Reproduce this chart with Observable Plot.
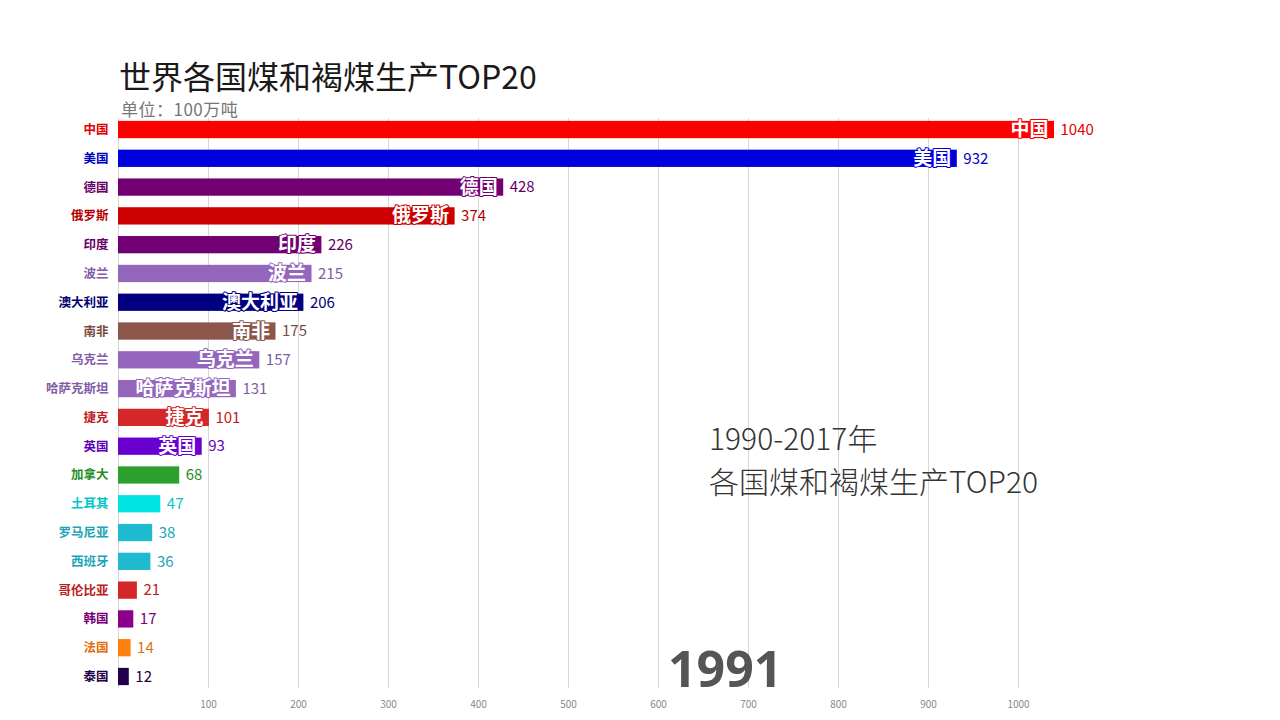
<!DOCTYPE html>
<html>
<head>
<meta charset="utf-8">
<script src="https://cdn.jsdelivr.net/npm/d3@7"></script>
<script src="https://cdn.jsdelivr.net/npm/@observablehq/plot@0.6"></script>
<style>
  html, body { margin: 0; padding: 0; background: #fff; }
  body { width: 1280px; height: 720px; position: relative; overflow: hidden;
         font-family: "Noto Sans CJK SC", "Noto Sans", sans-serif; }
  #title { position: absolute; left: 119px; top: 59px; font-size: 32px; line-height: 1; color: #1a1a1a; white-space: nowrap; }
  #subtitle { position: absolute; left: 121px; top: 100px; font-size: 17px; letter-spacing: 0.5px; line-height: 1; color: #777; white-space: nowrap; }
  #chart { position: absolute; left: 0; top: 118px; }
  #note { position: absolute; left: 709px; top: 416px; font-size: 30px; line-height: 43px; color: #333; font-weight: 300; white-space: nowrap; }
  #year { position: absolute; left: 668px; top: 648px; height: 42px; overflow: visible; font-size: 50px; line-height: 40px; color: #555; font-weight: 700; font-family: "Open Sans", "Noto Sans", sans-serif; }
</style>
</head>
<body>
<div id="title"></div>
<div id="subtitle"></div>
<div id="chart"></div>
<div id="note"></div>
<div id="year"></div>
<script>
const titleText = "世界各国煤和褐煤生产TOP20";
const subtitleText = "单位：100万吨";
const noteLines = ["1990-2017年", "各国煤和褐煤生产TOP20"];
const yearText = "1991";

const countries = ["中国","美国","德国","俄罗斯","印度","波兰","澳大利亚","南非","乌克兰","哈萨克斯坦","捷克","英国","加拿大","土耳其","罗马尼亚","西班牙","哥伦比亚","韩国","法国","泰国"];
const values = [1040, 932, 428, 374, 226, 215, 206, 175, 157, 131, 101, 93, 68, 47, 38, 36, 21, 17, 14, 12];
const colors = ["#ff0000","#0000dd","#730073","#cc0000","#730073","#9467bd","#000080","#8c564b","#9467bd","#9467bd","#d62728","#6a00d0","#2ca02c","#00e3e3","#1fbad0","#1fbad0","#d62728","#8b008b","#ff7f0e","#22004c"];
const xTicks = [100, 200, 300, 400, 500, 600, 700, 800, 900, 1000];
const gridTicks = [0, 100, 200, 300, 400, 500, 600, 700, 800, 900, 1000];
const innerLabelCount = 12; // only the top 12 bars carry their name inside

document.getElementById("title").textContent = titleText;
document.getElementById("subtitle").textContent = subtitleText;
document.getElementById("note").innerHTML = noteLines.map(s => `<div>${s}</div>`).join("");
document.getElementById("year").textContent = yearText;

const data = countries.map((c, i) => ({
  rank: i,
  country: c,
  value: values[i],
  color: colors[i],
  dark: d3.color(colors[i]).darker(0.35).formatHex()
}));

const chart = Plot.plot({
  width: 1280,
  height: 602,
  marginLeft: 118,
  marginRight: 100,
  marginTop: 0,
  marginBottom: 32,
  style: { fontFamily: "'Noto Sans CJK SC', 'Noto Sans', sans-serif", background: "transparent" },
  x: { domain: [0, 1180], axis: null },
  y: { domain: countries, paddingInner: 0.4, paddingOuter: 0.1, round: false, axis: null },
  marks: [
    Plot.ruleX(gridTicks, { x: d => d, stroke: "#d6d6d6", strokeWidth: 1 }),
    Plot.axisX(xTicks, { tickSize: 0, tickPadding: 12, fontSize: 10, fill: "#888", label: null, tickFormat: d => String(d) }),
    Plot.barX(data, { x: "value", y: "country", fill: "color" }),
    Plot.text(data, { x: 0, y: "country", text: "country", textAnchor: "end", dx: -10,
      fill: "dark", fontSize: 12.5, fontWeight: 700 }),
    Plot.text(data.filter(d => d.rank < innerLabelCount), { x: "value", y: "country", text: "country", textAnchor: "end", dx: -6,
      fill: "white", stroke: "color", strokeWidth: 2, fontSize: 19, fontWeight: 700 }),
    Plot.text(data, { x: "value", y: "country", text: d => String(d.value), textAnchor: "start", dx: 6,
      fill: "dark", fontSize: 15 })
  ]
});
document.getElementById("chart").appendChild(chart);
</script>
</body>
</html>
